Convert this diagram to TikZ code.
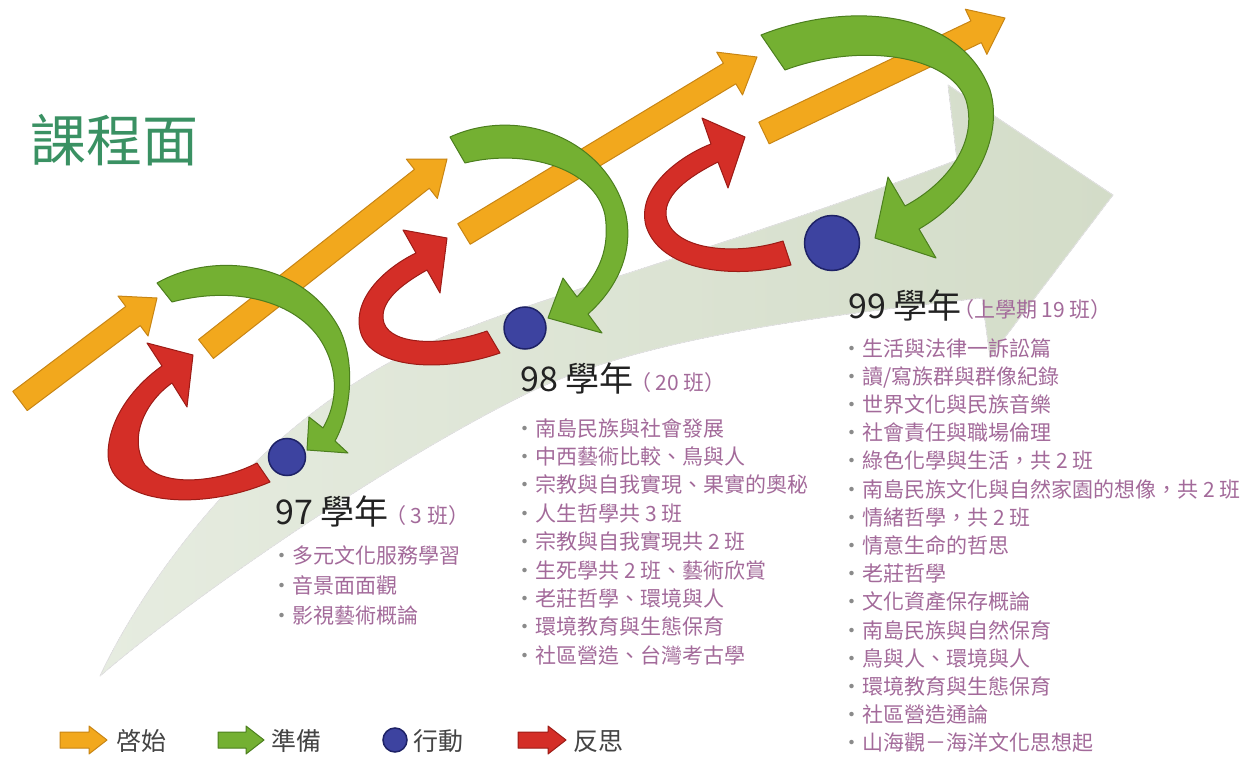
\documentclass[tikz,border=0pt]{standalone}
\usepackage{fontspec}
\setmainfont{Noto Sans CJK TC}
\usetikzlibrary{calc}
\definecolor{orangeF}{HTML}{F2A81D}
\definecolor{orangeD}{HTML}{C88514}
\definecolor{greenF}{HTML}{74B032}
\definecolor{greenD}{HTML}{4C7F1E}
\definecolor{redF}{HTML}{D42E27}
\definecolor{redD}{HTML}{9C1B16}
\definecolor{blueF}{HTML}{3D43A0}
\definecolor{blueD}{HTML}{1E2266}
\definecolor{bandC}{HTML}{D3DCC8}
\definecolor{bandL}{HTML}{E6ECE0}
\definecolor{titleC}{HTML}{3A9163}
\definecolor{itemC}{HTML}{A36A9A}
\definecolor{headC}{HTML}{222222}
\definecolor{bulletC}{HTML}{8A8A8A}
\definecolor{legendC}{HTML}{444444}
\tikzset{
  orangeA/.style={fill=orangeF, draw=orangeD, line width=1pt, line join=round},
  greenA/.style={fill=greenF, draw=greenD, line width=1pt, line join=round},
  redA/.style={fill=redF, draw=redD, line width=1pt, line join=round},
  dotS/.style={circle, fill=blueF, draw=blueD, line width=1.5pt, inner sep=0pt},
  headT/.style={anchor=base west, inner sep=0pt, font=\fontsize{34}{34}\selectfont, text=headC},
  parT/.style={anchor=base west, inner sep=0pt, font=\fontsize{21}{21}\selectfont, text=itemC},
  itemT/.style={anchor=base west, inner sep=0pt, font=\fontsize{21}{21}\selectfont, text=itemC},
  legT/.style={anchor=base west, inner sep=0pt, font=\fontsize{25}{25}\selectfont, text=legendC},
}
\newcommand{\itm}{\textcolor{bulletC}{・}}
% #1 style, #2 name, #3 tail, #4 tip, #5 half shaft, #6 half head, #7 head length
\newcommand{\blockarrow}[7]{%
  \coordinate (#2-a) at (#3);
  \coordinate (#2-b) at (#4);
  \coordinate (#2-h) at ($(#2-b)!#7pt!(#2-a)$);
  \filldraw[#1] ($(#2-a)!#5pt!90:(#2-b)$) -- ($(#2-h)!#5pt!-90:(#2-a)$) -- ($(#2-h)!#6pt!-90:(#2-a)$) -- (#2-b) -- ($(#2-h)!#6pt!90:(#2-a)$) -- ($(#2-h)!#5pt!90:(#2-a)$) -- ($(#2-a)!#5pt!-90:(#2-b)$) -- cycle;}
\begin{document}
\begin{tikzpicture}[x=1pt, y=-1pt]
\useasboundingbox (0,0) rectangle (1254,757);
\fill[white] (0,0) rectangle (1254,757);
% big pale arrow
\filldraw[left color=bandL, right color=bandC, draw=black!10, line width=0.8pt, line join=round] (100,676) .. controls (150,570) and (280,390) .. (473,326) .. controls (560,292) and (760,235) .. (957,160) -- (948,85) -- (1113,195) -- (990,357) -- (982,298) .. controls (800,318) and (640,340) .. (530,392) .. controls (400,455) and (200,590) .. (100,676) -- cycle;
% orange arrows
\blockarrow{orangeA}{o1}{20,401}{157,298}{12}{25}{30}
\blockarrow{orangeA}{o2}{206,349}{447,159}{12}{25}{32}
\blockarrow{orangeA}{o3}{464,234}{757,57}{12}{25}{32}
\blockarrow{orangeA}{o4}{764,133}{1005,18}{12}{25}{32}
% red arrows
\filldraw[redA] (257,463) -- (270,482) .. controls (200,512) and (110,505) .. (108,455) .. controls (108,418) and (135,385) .. (162,366) -- (147,343) -- (193,355) -- (187,407) -- (172,383) .. controls (145,402) and (128,438) .. (145,465) .. controls (165,488) and (220,482) .. (257,463) -- cycle;
\filldraw[redA] (487,331) -- (500,353) .. controls (440,374) and (368,368) .. (360,330) .. controls (353,298) and (385,268) .. (416,253) -- (403,230) -- (447,238) -- (440,293) -- (427,270) .. controls (400,285) and (378,303) .. (384,323) .. controls (392,346) and (445,346) .. (487,331) -- cycle;
\filldraw[redA] (783,241) -- (791,265) .. controls (730,280) and (660,270) .. (646,226) .. controls (636,188) and (680,156) .. (711,144) -- (702,118) -- (745,137) -- (728,188) -- (718,162) .. controls (690,176) and (660,196) .. (667,220) .. controls (676,250) and (735,256) .. (783,241) -- cycle;
% green arrows
\filldraw[greenA] (172,302) -- (157,283) .. controls (215,250) and (305,262) .. (340,330) .. controls (355,362) and (352,410) .. (335,441) -- (348,453) -- (307,450) -- (309,417) -- (323,428) .. controls (338,402) and (338,372) .. (324,346) .. controls (302,304) and (240,284) .. (172,302) -- cycle;
\filldraw[greenA] (465,163) -- (450,137) .. controls (520,105) and (608,140) .. (626,215) .. controls (634,255) and (615,290) .. (588,314) -- (602,333) -- (548,318) -- (563,278) -- (577,297) .. controls (600,272) and (610,248) .. (605,215) .. controls (595,168) and (525,148) .. (465,163) -- cycle;
\filldraw[greenA] (785,70) -- (761,35) .. controls (850,0) and (960,10) .. (990,90) .. controls (1005,140) and (970,200) .. (919,229) -- (936,258) -- (875,238) -- (888,177) -- (905,206) .. controls (950,182) and (978,140) .. (966,100) .. controls (950,55) and (860,42) .. (785,70) -- cycle;
% action dots
\node[dotS, minimum size=37pt] (d97) at (287,457) {};
\node[dotS, minimum size=42pt] (d98) at (525,328) {};
\node[dotS, minimum size=55pt] (d99) at (832,243) {};
% title
\node[anchor=base west, inner sep=0pt, font=\fontsize{56}{56}\selectfont, text=titleC] (title) at (30,162) {課程面};
% headings
\node[headT] (h97) at (275,524) {97 學年};
\node[parT] (p97) at (385,523) {（ 3 班）};
\node[headT] (h98) at (520,391) {98 學年};
\node[parT] (p98) at (630,390) {（ 20 班）};
\node[headT] (h99) at (848,318) {99 學年};
\node[parT] (p99) at (953,317) {（上學期 19 班）};
% lists
\foreach \t [count=\i from 0] in {多元文化服務學習, 音景面面觀, 影視藝術概論}
  \node[itemT] (a\i) at (271.5, 563+30*\i) {\itm\t};
\foreach \t [count=\i from 0] in {南島民族與社會發展, 中西藝術比較、鳥與人, 宗教與自我實現、果實的奧秘, 人生哲學共 3 班, 宗教與自我實現共 2 班, 生死學共 2 班、藝術欣賞, 老莊哲學、環境與人, 環境教育與生態保育, 社區營造、台灣考古學}
  \node[itemT] (b\i) at (514.5, 436+28.4*\i) {\itm\t};
\foreach \t [count=\i from 0] in {生活與法律一訴訟篇, 讀/寫族群與群像紀錄, 世界文化與民族音樂, 社會責任與職場倫理, 綠色化學與生活，共 2 班, 南島民族文化與自然家園的想像，共 2 班, 情緒哲學，共 2 班, 情意生命的哲思, 老莊哲學, 文化資產保存概論, 南島民族與自然保育, 鳥與人、環境與人, 環境教育與生態保育, 社區營造通論, 山海觀－海洋文化思想起}
  \node[itemT] (c\i) at (841.5, 356+28.2*\i) {\itm\t};
% legend
\blockarrow{orangeA}{lo}{60,740}{107,740}{8}{14}{18}
\node[legT] (lt1) at (116,750.5) {啓始};
\blockarrow{greenA}{lg}{218,740}{264,740}{8}{14}{18}
\node[legT] (lt2) at (271,750.5) {準備};
\node[dotS, minimum size=24pt] (ld) at (395,740) {};
\node[legT] (lt3) at (413,750.5) {行動};
\blockarrow{redA}{lr}{518,740}{566,740}{8}{14}{18}
\node[legT] (lt4) at (573,750.5) {反思};
\end{tikzpicture}
\end{document}
